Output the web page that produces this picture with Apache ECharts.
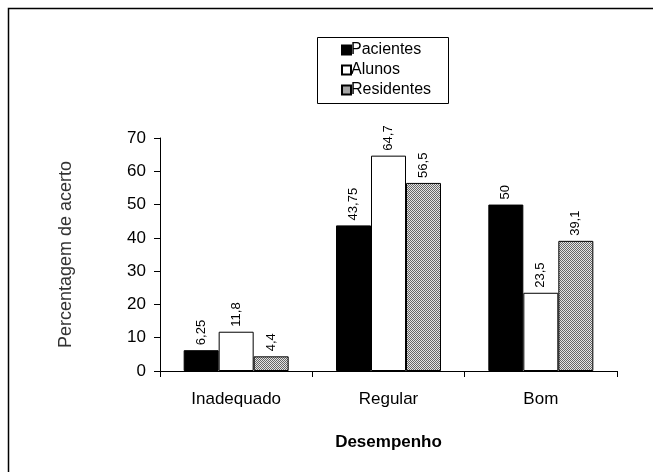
<!DOCTYPE html>
<html>
<head>
<meta charset="utf-8">
<script src="https://cdn.jsdelivr.net/npm/echarts@6/dist/echarts.min.js"></script>
<style>html,body{margin:0;padding:0;background:#fff}#c{width:653px;height:472px}</style>
</head>
<body>
<div id="c"></div>
<script>
var categories = ['Inadequado', 'Regular', 'Bom'];
var seriesNames = ['Pacientes', 'Alunos', 'Residentes'];
var pacientes = [6.25, 43.75, 50];
var alunos = [11.8, 64.7, 23.5];
var residentes = [4.4, 56.5, 39.1];
var yTicks = [0, 10, 20, 30, 40, 50, 60, 70];

var pc = document.createElement('canvas');
pc.width = 2; pc.height = 2;
var pctx = pc.getContext('2d');
pctx.fillStyle = '#e4e4e4'; pctx.fillRect(0,0,2,2);
pctx.fillStyle = '#666'; pctx.fillRect(0,0,1,1); pctx.fillRect(1,1,1,1);
var pattern = {image: pc, repeat: 'repeat'};

var font = 'Liberation Sans, Arial, sans-serif';
var lbl = {
  show: true, position: 'top', rotate: 90, align: 'left', verticalAlign: 'middle',
  distance: 5, fontSize: 13, color: '#000', fontFamily: font,
  formatter: function(p){ return String(p.value).replace('.', ','); }
};
function mk(name, data, color) {
  return {
    name: name, type: 'bar', data: data, barWidth: 35, barGap: '0%',
    itemStyle: {color: color, borderColor: '#000', borderWidth: 1},
    label: lbl, emphasis: {disabled: true}
  };
}
var chart = echarts.init(document.getElementById('c'), null, {renderer: 'canvas'});
chart.setOption({
  animation: false,
  backgroundColor: '#fff',
  graphic: [{type: 'rect', shape: {x: 8.5, y: 8.5, width: 700, height: 500}, style: {fill: null, stroke: '#000', lineWidth: 1.5}, z: -10},
            {type: 'rect', shape: {x: 317.5, y: 37.5, width: 131, height: 66}, style: {fill: '#fff', stroke: '#000', lineWidth: 1}, z: 1}],
  legend: {
    orient: 'vertical', left: 336, top: 37, itemWidth: 9, itemHeight: 9, itemGap: 4,
    icon: 'rect', textStyle: {fontSize: 16, fontFamily: font, color: '#000', padding: [0,0,0,-5]},
    data: seriesNames, z: 3
  },
  grid: {left: 160, right: 36, top: 138, bottom: 101},
  xAxis: {
    type: 'category', data: categories, boundaryGap: true,
    axisLine: {lineStyle: {color: '#000', width: 1}},
    axisTick: {show: true, length: 6, lineStyle: {color: '#000'}},
    axisLabel: {fontSize: 17, color: '#000', fontFamily: font, margin: 20},
    name: 'Desempenho', nameLocation: 'middle', nameGap: 63,
    nameTextStyle: {fontSize: 17, fontWeight: 'bold', color: '#000', fontFamily: font}
  },
  yAxis: {
    type: 'value', min: 0, max: 70, interval: 10,
    axisLine: {show: true, lineStyle: {color: '#000'}},
    axisTick: {show: true, length: 6, lineStyle: {color: '#000'}},
    splitLine: {show: false},
    axisLabel: {fontSize: 17, color: '#000', fontFamily: font, margin: 14,
      formatter: function(v){ return yTicks.indexOf(v) >= 0 ? String(v) : ''; }},
    name: 'Percentagem de acerto', nameLocation: 'middle', nameGap: 85, nameRotate: 90,
    nameTextStyle: {fontSize: 18, color: '#333', fontFamily: font}
  },
  series: [mk(seriesNames[0], pacientes, '#000'), mk(seriesNames[1], alunos, '#fff'), mk(seriesNames[2], residentes, pattern)]
});
</script>
</body>
</html>
